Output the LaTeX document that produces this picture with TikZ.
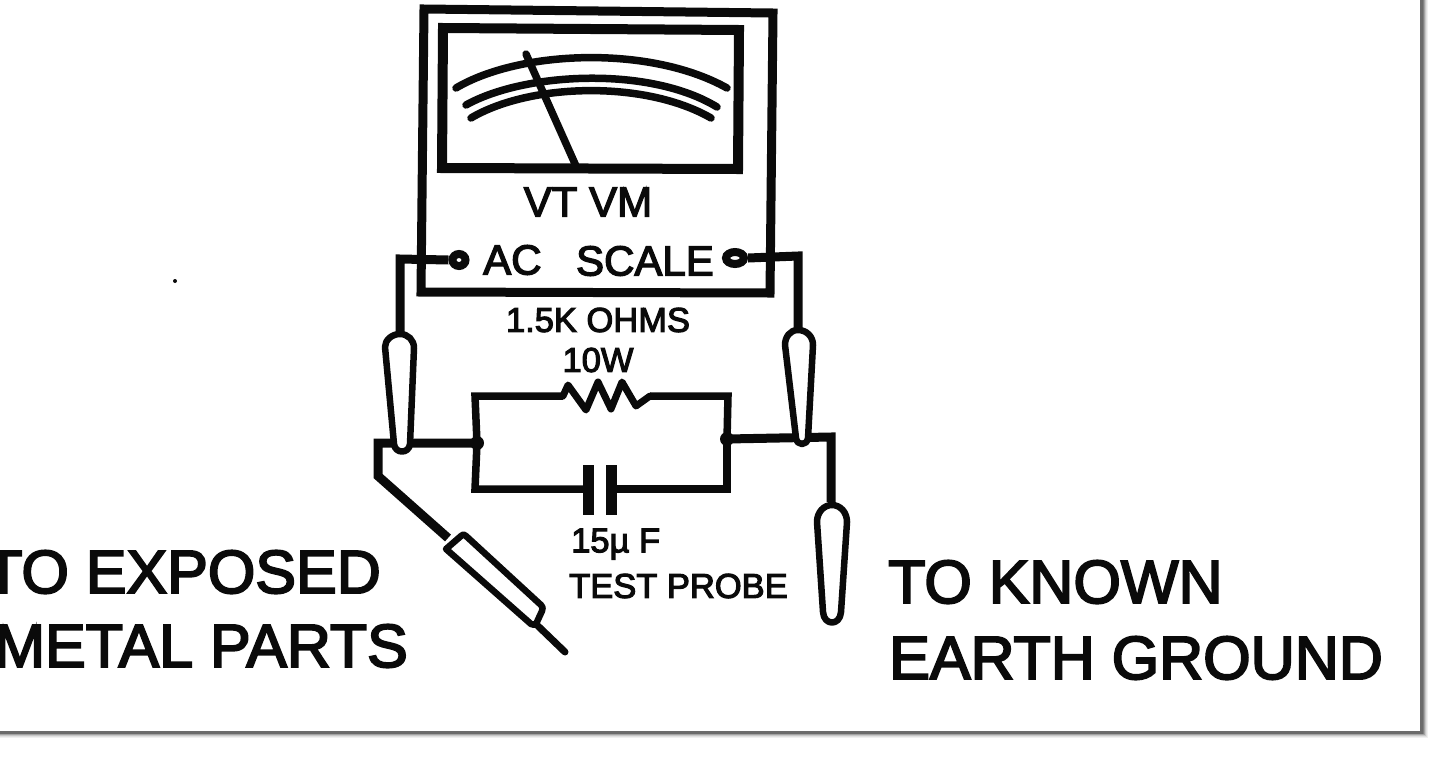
\documentclass[tikz,border=0pt]{standalone}
\usepackage{fontspec}
\usetikzlibrary{shapes.geometric}
\setmainfont{Liberation Sans}[FakeBold=3.2]
\definecolor{ink}{HTML}{0A0A0A}
\tikzset{
  wire/.style={draw=ink,line width=7.5pt,line join=miter},
  leadwire/.style={draw=ink,line width=9pt,line join=miter},
  panelline/.style={line width=9pt,draw=ink},
  windowline/.style={line width=10pt,draw=ink},
  scale arc/.style={draw=ink,line width=7.5pt,line cap=round},
  probe/.style={draw=ink,line width=6.5pt,fill=white,line join=round},
  lbl/.style={inner sep=0pt,text=ink},
  big/.style={lbl,font=\fontsize{61}{62}\selectfont},
  mid/.style={lbl,font=\fontsize{42}{42}\selectfont},
  small/.style={lbl,font=\fontsize{34.5}{34}\selectfont},
  dotj/.style={circle,fill=ink,inner sep=0pt,minimum size=14pt},
  term/.style={ellipse,draw=ink,fill=white,line width=8pt,inner sep=0pt,minimum height=12pt},
}
\begin{document}
\begin{tikzpicture}[x=1pt,y=-1pt]
\useasboundingbox (0,0) rectangle (1439,761);
% page edge with soft shadow
\foreach \o/\c in {6/6,5/12,4/22,3/36,2/50}{
  \draw[line width=1.2pt,draw=black!\c] (1421+\o,0) -- (1421+\o,731+\o) -- (0,731+\o);
}
\draw[line width=3pt,draw=black!58] (1421,0) -- (1421,732) -- (0,732);
% stray speck
\fill[ink] (175,281) circle (2pt);
% coordinates
\coordinate (mTL) at (424,9);
\coordinate (mTR) at (773,13);
\coordinate (mBR) at (770,293);
\coordinate (mBL) at (421,292);
\coordinate (wTL) at (443,28);
\coordinate (wTR) at (739,30);
\coordinate (wBR) at (738,169);
\coordinate (wBL) at (442,168);
% meter
\draw[panelline,line join=miter] (mTL) -- (mTR) -- (mBR) -- (mBL) -- cycle;
\draw[windowline,line join=miter] (wTL) -- (wTR) -- (wBR) -- (wBL) -- cycle;
% scale
\coordinate (a1) at (456,88); \coordinate (a2) at (727,88);
\coordinate (b1) at (466,105); \coordinate (b2) at (717,107);
\coordinate (c1) at (471,118); \coordinate (c2) at (711,118);
\draw[scale arc] (a1) .. controls (520,50) and (650,45) .. (a2);
\draw[scale arc] (b1) .. controls (525,72) and (650,66) .. (b2);
\draw[scale arc] (c1) .. controls (530,83) and (645,80) .. (c2);
% needle
\coordinate (nA) at (526,54); \coordinate (nB) at (576,166);
\draw[draw=ink,line width=7.5pt,line cap=round] (nA) -- (nB);
% labels in the meter
\node[mid,anchor=center] (vt) at (588,202) {VT VM};
\node[mid,anchor=west] (ac) at (483,260) {AC};
\node[mid,anchor=east] (sc) at (714,261) {SCALE};
% probes and terminals
\coordinate (lw) at (400,259);
\coordinate (rw) at (798,256);
\coordinate (lpT) at (400,334);
\coordinate (rpT) at (798,330);
\node[term,minimum width=13pt] (tl) at (459,260) {};
\node[term,minimum width=18pt] (tr) at (735,258) {};
\draw[leadwire] (tl.west) -- (lw) -- (lpT);
\draw[leadwire] (tr.east) -- (rw) -- (rpT);
% junction network
\coordinate (jl) at (477,443);
\coordinate (jr) at (727,439);
\coordinate (lc) at (378,443);
\coordinate (ld) at (378,476);
\coordinate (dp) at (448,538);
\coordinate (rc) at (831,437);
\coordinate (rd) at (831,502);
\draw[leadwire] (jl) -- (lc) -- (ld) -- (dp);
\draw[leadwire] (jr) -- (rc) -- (rd);
% parallel branch
\coordinate (rs) at (563,396);
\coordinate (re) at (650,396);
\draw[wire] (jl) -- (475,396) -- (rs);
\draw[wire] (jr) -- (728,396) -- (re);
\draw[draw=ink,line width=7pt,line join=round,line cap=round]
 (rs) -- (568,385) -- (586,410) -- (598,382) -- (611,409) -- (622,382) -- (636,406) -- (650,396);
\coordinate (cl) at (588,489);
\coordinate (cr) at (611,489);
\draw[wire] (jl) -- (475,489) -- (cl);
\draw[wire] (jr) -- (727,489) -- (cr);
\draw[draw=ink,line width=11pt] (588,465) -- (588,515);
\draw[draw=ink,line width=11pt] (611,465) -- (611,515);
\node[dotj] (dl) at (jl) {};
\node[dotj] (dr) at (jr) {};
% probe bodies
\draw[probe] (400,334) .. controls (392,334) and (385,340) .. (385,347) -- (394,444)
  .. controls (395,454) and (409,454) .. (410,444) -- (414,348) .. controls (414,340) and (408,334) .. (400,334) -- cycle;
\draw[probe] (798,330) .. controls (790,330) and (785,337) .. (785,345) -- (796,438)
  .. controls (797,446) and (807,446) .. (808,438) -- (813,345) .. controls (813,336) and (806,330) .. (798,330) -- cycle;
\draw[probe] (832,505) .. controls (824,505) and (817,512) .. (817,522) -- (823,612)
  .. controls (824,626) and (840,626) .. (841,612) -- (847,522) .. controls (847,512) and (840,505) .. (832,505) -- cycle;
\draw[probe] (446,549) -- (461,536) .. controls (463,534) and (464,534) .. (466,536) -- (541,605)
  .. controls (543,607) and (543,608) .. (542,611) -- (536,624) .. controls (535,625) and (533,625) .. (531,624) -- cycle;
\coordinate (tipA) at (538,626);
\coordinate (tipB) at (565,652);
\draw[draw=ink,line width=7pt,line cap=round] (tipA) -- (tipB);
% labels
\node[small,anchor=center] (ohm) at (598,320) {1.5K OHMS};
\node[small,anchor=center] (w) at (598,360) {10W};
\node[small,anchor=west] (uf) at (571,544) {15µ F};
\node[small,anchor=west] (tp) at (569,586) {TEST PROBE};
\node[big,anchor=east] (e1) at (381,572) {TO EXPOSED};
\node[big,anchor=east] (e2) at (408,646) {METAL PARTS};
\node[big,anchor=west] (k1) at (888,582) {TO KNOWN};
\node[big,anchor=west] (k2) at (889,658) {EARTH GROUND};
\end{tikzpicture}
\end{document}
